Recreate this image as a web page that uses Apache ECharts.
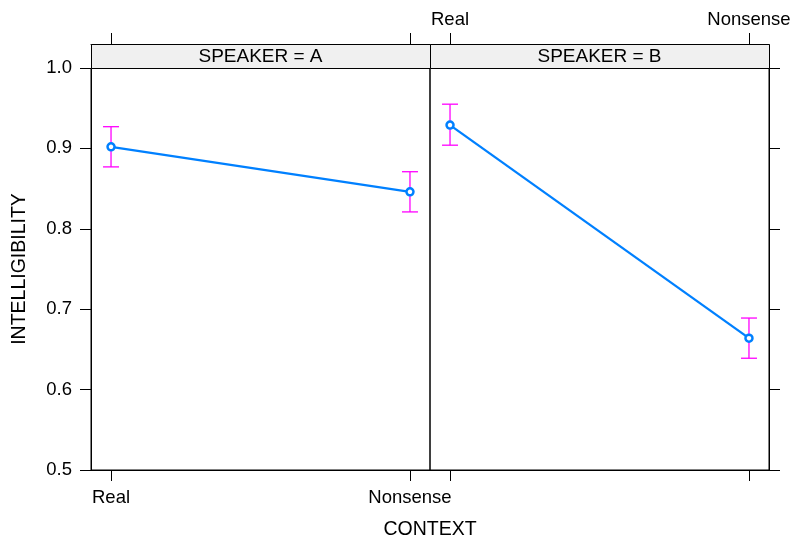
<!DOCTYPE html>
<html>
<head>
<meta charset="utf-8">
<script src="https://cdn.jsdelivr.net/npm/echarts@6/dist/echarts.min.js"></script>
<style>html,body{margin:0;padding:0;background:#fff;}#c{width:795px;height:539px;}</style>
</head>
<body>
<div id="c"></div>
<script>
const categories = ['Real', 'Nonsense'];
const speakers = ['A', 'B'];
const fitA = [0.902, 0.846];
const lowerA = [0.877, 0.821];
const upperA = [0.927, 0.871];
const fitB = [0.929, 0.664];
const lowerB = [0.904, 0.639];
const upperB = [0.955, 0.689];
const yTicks = [0.5, 0.6, 0.7, 0.8, 0.9, 1.0];
const xTickPos = [1, 2];

const FONT = 'Liberation Sans, Arial, sans-serif';
const TICKFS = 18.5, STRIPFS = 19, TITLEFS = 19.5;
const panels = [
  {fit: fitA, lo: lowerA, hi: upperA},
  {fit: fitB, lo: lowerB, hi: upperB}
];
const PL = [91, 430], PW = 339, PT = 68, PH = 402, STRIP = 24;

const grids = [], xAxes = [], yAxes = [], series = [], graphics = [];
const fmtX = v => { const i = xTickPos.indexOf(Math.round(v)); return i >= 0 ? categories[i] : ''; };

panels.forEach((p, i) => {
  grids.push({left: PL[i], top: PT, width: PW, height: PH, show: true, borderColor: '#000', borderWidth: 1, backgroundColor: 'transparent'});
  xAxes.push({
    type: 'value', gridIndex: i, position: 'bottom', min: 0.933, max: 2.067,
    axisLine: {show: true, onZero: false, lineStyle: {color: '#000'}},
    axisTick: {show: true, inside: false, length: 11, customValues: xTickPos, lineStyle: {color: '#000'}},
    axisLabel: {show: i === 0, customValues: xTickPos, formatter: fmtX, color: '#000', fontSize: TICKFS, fontFamily: FONT, margin: 18},
    splitLine: {show: false}
  });
  xAxes.push({
    type: 'value', gridIndex: i, position: 'top', offset: STRIP, min: 0.933, max: 2.067,
    axisLine: {show: true, onZero: false, lineStyle: {color: '#000'}},
    axisTick: {show: true, inside: false, length: 11, customValues: xTickPos, lineStyle: {color: '#000'}},
    axisLabel: {show: i === 1, customValues: xTickPos, formatter: fmtX, color: '#000', fontSize: TICKFS, fontFamily: FONT, margin: 15},
    splitLine: {show: false}
  });
  yAxes.push({
    type: 'value', gridIndex: i, position: i === 0 ? 'left' : 'right', min: 0.5, max: 1.0, interval: 0.1,
    axisLine: {show: true, onZero: false, lineStyle: {color: '#000'}},
    axisTick: {show: true, inside: false, length: 11, lineStyle: {color: '#000'}},
    axisLabel: {show: i === 0, color: '#000', fontSize: TICKFS, fontFamily: FONT, margin: 19, formatter: v => v.toFixed(1)},
    splitLine: {show: false}
  });
  const lineData = p.fit.map((v, k) => [xTickPos[k], v]);
  series.push({
    type: 'line', xAxisIndex: 2 * i, yAxisIndex: i, data: lineData,
    symbol: 'circle', symbolSize: 7, showSymbol: true,
    itemStyle: {color: '#fff', borderColor: '#0080ff', borderWidth: 2.5},
    lineStyle: {color: '#0080ff', width: 2.3}, silent: true, animation: false, z: 3
  });
  series.push({
    type: 'custom', xAxisIndex: 2 * i, yAxisIndex: i,
    data: p.fit.map((v, k) => [xTickPos[k], p.lo[k], p.hi[k]]),
    renderItem: (params, api) => {
      const x = api.value(0);
      const a = api.coord([x, api.value(1)]);
      const b = api.coord([x, api.value(2)]);
      const w = 8;
      const st = {stroke: '#ff00ff', lineWidth: 1.3, fill: null};
      return {type: 'group', children: [
        {type: 'line', shape: {x1: a[0], y1: a[1], x2: b[0], y2: b[1]}, style: st},
        {type: 'line', shape: {x1: a[0] - w, y1: a[1], x2: a[0] + w, y2: a[1]}, style: st},
        {type: 'line', shape: {x1: b[0] - w, y1: b[1], x2: b[0] + w, y2: b[1]}, style: st}
      ]};
    }, animation: false, z: 2, silent: true
  });
  graphics.push({
    type: 'rect', left: PL[i], top: PT - STRIP, z: 10,
    shape: {width: PW, height: STRIP},
    style: {fill: '#f0f0f0', stroke: '#000', lineWidth: 1}
  });
  graphics.push({
    type: 'text', x: PL[i] + PW / 2, y: PT - STRIP / 2 + 1, z: 11,
    style: {text: 'SPEAKER = ' + speakers[i], fill: '#000', font: STRIPFS + 'px ' + FONT, textAlign: 'center', textVerticalAlign: 'middle'}
  });
});

graphics.push({type: 'text', x: 430, y: 530, style: {text: 'CONTEXT', fill: '#000', font: TITLEFS + 'px ' + FONT, textAlign: 'center', textVerticalAlign: 'middle'}});
graphics.push({type: 'text', x: 20, y: 269, rotation: Math.PI / 2, style: {text: 'INTELLIGIBILITY', fill: '#000', font: TITLEFS + 'px ' + FONT, textAlign: 'center', textVerticalAlign: 'middle'}});

const chart = echarts.init(document.getElementById('c'), null, {renderer: 'canvas'});
chart.setOption({
  animation: false,
  backgroundColor: '#fff',
  grid: grids, xAxis: xAxes, yAxis: yAxes, series: series, graphic: graphics
});
</script>
</body>
</html>
